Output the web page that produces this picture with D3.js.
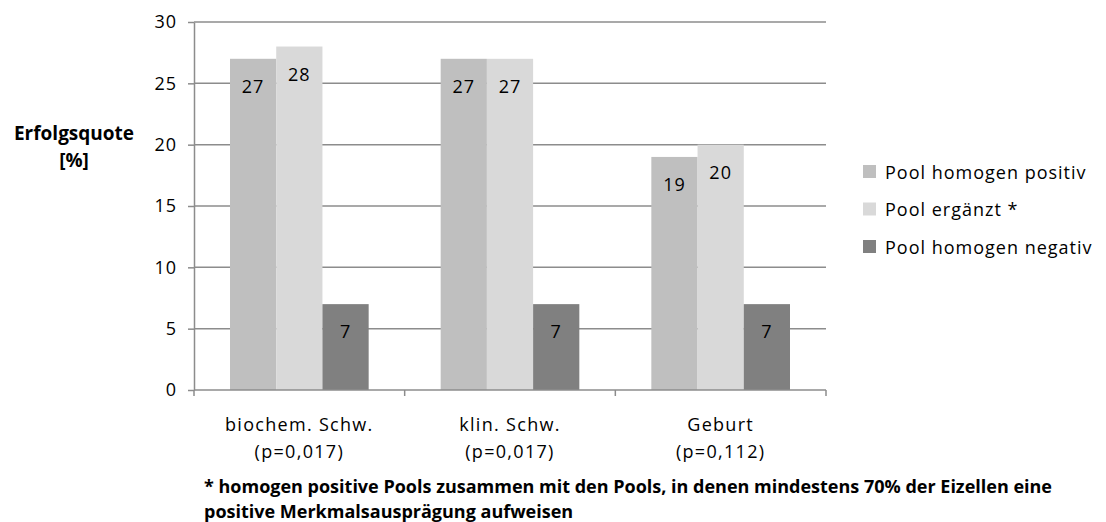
<!DOCTYPE html>
<html lang="de">
<head>
  <meta charset="UTF-8">
  <title>Erfolgsquote</title>
  <script src="https://d3js.org/d3.v7.min.js"></script>
  <style>
    body { margin: 0; background: #fff; }
    svg text { font-family: "Open Sans", Lato, sans-serif; fill: #000; }
    .grid line { stroke: #8c8c8c; stroke-width: 1.5px; }
    .axis path, .axis line { stroke: #8c8c8c; stroke-width: 1.5px; }
  </style>
</head>
<body>
  <div id="chart"></div>
  <script>
    const categories = ["biochem. Schw.", "klin. Schw.", "Geburt"];
    const pValues = ["(p=0,017)", "(p=0,017)", "(p=0,112)"];
    const seriesNames = ["Pool homogen positiv", "Pool ergänzt *", "Pool homogen negativ"];
    const seriesColors = ["#bfbfbf", "#d9d9d9", "#808080"];
    const homogenPositiv = [27, 27, 19];
    const ergaenzt = [28, 27, 20];
    const homogenNegativ = [7, 7, 7];
    const yTicks = [0, 5, 10, 15, 20, 25, 30];
    const footnote = [
      "* homogen positive Pools zusammen mit den Pools, in denen mindestens 70% der Eizellen eine",
      "positive Merkmalsausprägung aufweisen"
    ];

    const series = [homogenPositiv, ergaenzt, homogenNegativ];

    const W = 1106, H = 522;
    const plot = { left: 194, right: 826, top: 22, bottom: 390 };

    const svg = d3.select("#chart").append("svg")
      .attr("width", W).attr("height", H);

    const x = d3.scaleBand().domain(categories).range([plot.left, plot.right]).paddingInner(0).paddingOuter(0);
    const xInner = d3.scaleBand().domain(d3.range(series.length)).range([36, x.bandwidth() - 36]);
    const y = d3.scaleLinear().domain([0, 30]).range([plot.bottom, plot.top]);

    // gridlines
    svg.append("g").attr("class", "grid")
      .selectAll("line").data(yTicks.filter(t => t > 0)).enter().append("line")
      .attr("x1", plot.left).attr("x2", plot.right)
      .attr("y1", d => y(d)).attr("y2", d => y(d));

    // bars
    series.forEach((vals, si) => {
      const g = svg.append("g");
      g.selectAll("rect").data(vals).enter().append("rect")
        .attr("x", (d, i) => x(categories[i]) + xInner(si))
        .attr("width", xInner.bandwidth())
        .attr("y", d => y(d))
        .attr("height", d => y(0) - y(d))
        .attr("fill", seriesColors[si]);
      g.selectAll("text").data(vals).enter().append("text")
        .attr("x", (d, i) => x(categories[i]) + xInner(si) + xInner.bandwidth() / 2)
        .attr("y", d => y(d) + 34)
        .attr("text-anchor", "middle")
        .style("font-size", "18px").style("letter-spacing", "1px")
        .text(d => d);
    });

    // y axis
    const yAxis = svg.append("g").attr("class", "axis")
      .attr("transform", `translate(${plot.left},0)`)
      .call(d3.axisLeft(y).tickValues(yTicks).tickSize(6).tickPadding(11).tickSizeOuter(0));
    yAxis.selectAll("text").style("font-size", "18px").style("letter-spacing", "1px");

    // x axis
    const xAxis = svg.append("g").attr("class", "axis")
      .attr("transform", `translate(0,${plot.bottom})`);
    xAxis.append("line").attr("x1", plot.left).attr("x2", plot.right)
      .attr("y1", 0).attr("y2", 0);
    xAxis.selectAll(".tk").data([...categories.map(c => x(c)), plot.right]).enter().append("line")
      .attr("class", "tk")
      .attr("x1", d => d).attr("x2", d => d).attr("y1", 0).attr("y2", 6);

    categories.forEach((c, i) => {
      const cx = x(c) + x.bandwidth() / 2;
      svg.append("text").attr("x", cx).attr("y", 431).attr("text-anchor", "middle")
        .style("font-size", "18px").style("letter-spacing", "1.3px").text(c);
      svg.append("text").attr("x", cx).attr("y", 458).attr("text-anchor", "middle")
        .style("font-size", "18px").style("letter-spacing", "1.3px").text(pValues[i]);
    });

    // y title
    svg.append("text").attr("x", 74).attr("y", 140).attr("text-anchor", "middle")
      .style("font-size", "19px").style("font-weight", "bold").text("Erfolgsquote");
    svg.append("text").attr("x", 74).attr("y", 167).attr("text-anchor", "middle")
      .style("font-size", "19px").style("font-weight", "bold").text("[%]");

    // legend
    const legend = svg.append("g").attr("transform", "translate(863,172)");
    seriesNames.forEach((name, i) => {
      const row = legend.append("g").attr("transform", `translate(0,${i * 37.5})`);
      row.append("rect").attr("x", 0).attr("y", -7).attr("width", 13).attr("height", 13)
        .attr("fill", seriesColors[i]);
      row.append("text").attr("x", 22).attr("y", 6.5)
        .style("font-size", "18px").style("letter-spacing", "1px").text(name);
    });

    // footnote
    footnote.forEach((line, i) => {
      svg.append("text").attr("x", 204).attr("y", 493 + i * 25)
        .style("font-size", "18px").style("font-weight", "bold").text(line);
    });
  </script>
</body>
</html>
